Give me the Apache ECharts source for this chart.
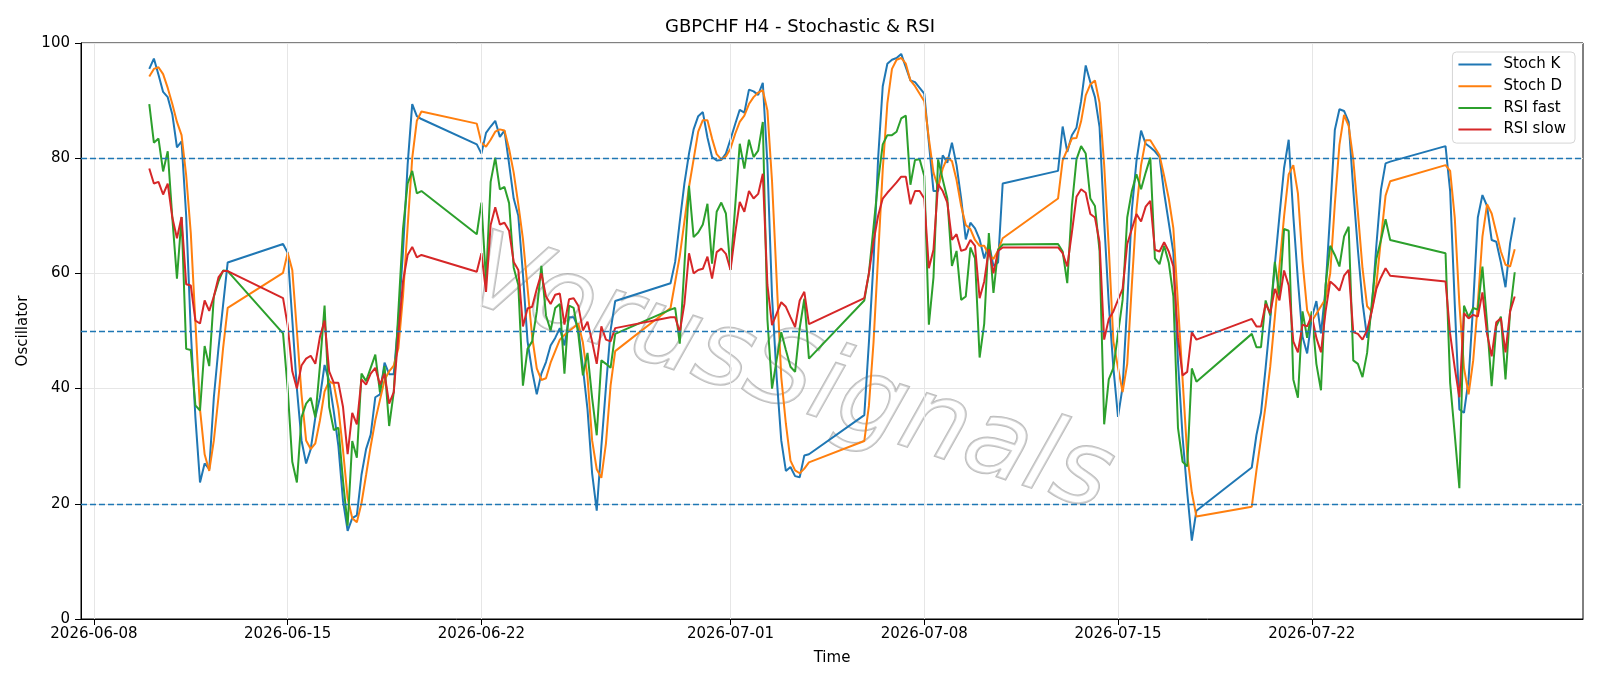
<!DOCTYPE html>
<html>
<head>
<meta charset="utf-8">
<title>GBPCHF H4 - Stochastic & RSI</title>
<script src="https://cdn.jsdelivr.net/npm/echarts@6/dist/echarts.min.js"></script>
<style>
    html, body { margin: 0; padding: 0; background: #fff; }
    #chart-stoch-rsi { width: 1600px; height: 686px; }
</style>
</head>
<body>
<div id="chart-stoch-rsi"></div>
<script>
// H4 sessions (UTC): first bar and bar count, one line per week in the arrays below
let sessionStart = ['2026-06-10T00:00:00Z', '2026-06-14T20:00:00Z', '2026-06-21T20:00:00Z', '2026-06-28T20:00:00Z',
    '2026-07-05T20:00:00Z', '2026-07-12T20:00:00Z', '2026-07-19T20:00:00Z', '2026-07-26T20:00:00Z'];
let sessionBars = [18, 31, 31, 31, 31, 31, 31, 16];

let tickDates = ['2026-06-08', '2026-06-15', '2026-06-22', '2026-07-01', '2026-07-08', '2026-07-15', '2026-07-22'];
let levelLines = [20, 50, 80];

let stochK = [
    95.5, 97.3, 94.5, 91.5, 90.6, 87.6, 81.9, 82.9, 70, 50, 35, 23.7, 27, 26, 38.5, 47, 54.5, 61.9,
    65.1, 63.6, 52, 40, 31, 27, 29.5, 35, 38.5, 44.1, 41.3, 36, 30, 20.5, 15.3, 17.5, 18, 25, 29.5, 32, 38.5, 39, 44.5, 42.5, 42.5, 51.8, 63.8, 78.8, 89.4, 87.3, 86.8,
    82.4, 80.8, 84.4, 85.5, 86.5, 83.7, 84.8, 79, 73, 70, 59.9, 48.2, 43, 39, 42.6, 44.6, 47.5, 48.8, 50.5, 47.5, 52.4, 52.4, 50.5, 43.6, 36.4, 25.3, 18.8, 29.9, 40.3, 50.1, 55.2,
    58.3, 62, 69, 75.6, 80.8, 85, 87.3, 88, 83.6, 80.2, 79.6, 79.7, 80.8, 83.3, 85.9, 88.4, 87.9, 91.9, 91.6, 91, 93.1, 79, 56, 42, 31, 25.7, 26.4, 24.8, 24.6, 28.4, 28.6,
    35.4, 48, 62, 80, 92.5, 96.4, 97.1, 97.4, 98.1, 95.8, 93.5, 93.2, 92.2, 91.2, 82.7, 74.3, 74.3, 80.5, 79.2, 82.7, 78.8, 73, 65.9, 68.8, 67.8, 65.9, 62.6, 65.2, 61.3, 61.9, 75.6,
    77.8, 85.5, 81.1, 84, 85.3, 89.9, 96.1, 93.2, 90.6, 85.4, 69, 54.7, 43.6, 35.1, 40.3, 54.7, 71, 79.5, 84.8, 82.5, 81.9, 81.2, 80.2, 74, 68.8, 63.6, 44.7, 31.6, 22, 13.6, 18.8,
    26.3, 31.9, 35.8, 43.6, 52, 61.5, 70, 78.3, 83.2, 70, 58.8, 49, 46.1, 52.3, 55.2, 49.6, 57.4, 70.5, 84.9, 88.5, 88.2, 86.3, 74.5, 64.1, 55, 48.8, 53.7, 64.8, 74.5, 79.1, 79.4,
    82.1, 74.3, 54.7, 36.4, 35.8, 41.6, 54.7, 69.7, 73.6, 71.7, 65.8, 65.5, 61.9, 57.6, 65.2, 69.7
];
let stochD = [
    94.2, 95.5, 95.8, 94.6, 92.2, 89.4, 86.3, 84, 77, 67, 51.5, 36.4, 28.6, 25.7, 31, 38.5, 47, 54,
    60.1, 63.6, 60.6, 50, 39, 31, 29.5, 30.5, 34.5, 39.5, 41.3, 40.8, 36.5, 29.3, 21, 17.5, 16.8, 20.1, 25, 30, 34.5, 38, 41.5, 43, 44, 47, 56, 68, 80, 86.5, 88.1,
    86, 82.7, 82, 83.2, 84.6, 85, 84.8, 81.6, 77.5, 72, 66, 57.5, 49, 43.5, 41.5, 41.8, 44.5, 46.5, 48.5, 49.3, 50, 50.6, 51.3, 48, 42, 31, 26, 24.5, 30.5, 40.5, 46.5,
    54, 58.5, 63, 69, 75, 79.8, 84.6, 86.6, 86.6, 83.4, 80.7, 79.8, 80.3, 81.7, 84.2, 86.3, 87.4, 89.4, 90.6, 91.4, 91.8, 88.3, 76, 59, 42, 33.9, 27.5, 25.8, 25.3, 26.1, 27.2,
    30.9, 37, 48, 63, 78, 89.5, 95.5, 97.1, 97.4, 96.4, 93.5, 92.5, 91.2, 89.9, 83.4, 77.5, 74.9, 78.2, 80.1, 79.5, 76.2, 71.7, 68.4, 67.7, 65.8, 64.8, 64.8, 63.2, 62.5, 64, 66.1,
    73, 79.6, 81.5, 83.4, 83.5, 86.4, 90.9, 92.8, 93.5, 89.6, 78.8, 64.5, 48.2, 43.6, 39.4, 44.3, 58, 71, 78.8, 83.1, 83.1, 81.8, 80.5, 76.9, 73, 67.8, 54.7, 41.6, 28.6, 22, 17.8,
    19.5, 25.7, 31.3, 37.1, 43.8, 52.4, 61.2, 69.9, 77.2, 78.8, 73.9, 62.1, 53.6, 51.7, 53, 54.3, 55.6, 60, 72, 82.3, 87.5, 85.6, 79.8, 70.6, 60.9, 54.3, 53.4, 58, 66, 73.5, 76,
    78.8, 77.8, 69.7, 54.7, 43.6, 39, 44.9, 54.7, 66.4, 72, 70.4, 67.1, 63.8, 61.5, 61.2, 64.2
];
let rsiFast = [
    89.4, 82.7, 83.4, 77.7, 81.2, 69.6, 59.1, 69.8, 46.9, 46.7, 37.1, 36.2, 47.4, 43.9, 56, 58.6, 60.5, 60.4,
    49.6, 40, 27.3, 23.7, 35, 37.4, 38.4, 35, 44, 54.4, 36.8, 32.8, 33.2, 24, 16.2, 30.9, 28, 42.6, 41.3, 43.6, 45.9, 39.4, 43.9, 33.5, 39.4, 53.4, 67.7, 75.6, 77.8, 73.9, 74.3,
    66.8, 72.3, 58.6, 75.9, 80.1, 74.6, 75, 72.2, 61, 58, 40.5, 46.9, 48.2, 53.4, 61.3, 52.7, 50.1, 54, 54.7, 42.6, 54.4, 54, 49.5, 42.3, 46.2, 38.4, 31.9, 44.9, 44.3, 43.6, 49.5,
    53.7, 54, 47.8, 61.2, 75.2, 66.3, 67.1, 68.5, 72.1, 61.7, 70.7, 72.3, 70.4, 60.6, 71.5, 82.5, 78.2, 83.2, 80.2, 81.3, 86.3, 52, 40, 45, 49.8, 46.7, 43.8, 42.9, 50.5, 55.6, 45.2,
    55.3, 60, 68, 76, 82.4, 84, 84, 84.6, 86.9, 87.4, 75.4, 79.7, 79.8, 76.9, 51.1, 59.3, 79.8, 76.3, 73, 61.3, 63.9, 55.4, 56, 64.5, 62.6, 45.4, 51.3, 67, 56.6, 64.1, 65,
    65.1, 63.8, 58.3, 71.7, 79.8, 82.1, 80.8, 73, 71.7, 63.9, 33.8, 41.6, 43.6, 49.5, 55.4, 69.7, 74.3, 77.2, 74.6, 77.5, 80.1, 62.6, 61.6, 64.8, 61.9, 56, 33.2, 27.3, 26.5, 43.5, 41.2,
    49.5, 47.2, 47.2, 55.3, 52.7, 62, 56, 67.7, 67.4, 41.6, 38.4, 53.4, 48.8, 53.4, 44.3, 39.7, 58, 64.8, 63.2, 61.2, 66.4, 68.1, 44.9, 44.3, 42, 46.2, 54.7, 62.5, 65.8, 69.4, 65.8,
    63.5, 41, 32, 22.7, 54.4, 52.4, 54, 53.7, 61.2, 51.4, 40.4, 50.8, 52.5, 41.6, 53.4, 60.2
];
let rsiSlow = [
    78.2, 75.6, 75.9, 73.7, 75.6, 69.7, 66.1, 69.8, 58.1, 57.9, 51.8, 51.3, 55.3, 53.5, 56, 59.3, 60.4, 60.4,
    55.7, 51, 43, 40, 44, 45.2, 45.7, 44.3, 49, 51.8, 43, 41, 41, 36.8, 28.6, 35.8, 33.8, 41.6, 40.7, 42.6, 43.6, 40.7, 42.6, 37.4, 39.4, 49.5, 58.6, 63.2, 64.6, 62.8, 63.2,
    60.3, 63.5, 56.8, 68.4, 71.5, 68.5, 68.8, 67.4, 62, 60.6, 50.8, 53.9, 54.2, 57.3, 60, 56, 54.7, 56.3, 56.5, 51.1, 55.5, 55.7, 54.4, 50.1, 51.6, 48.2, 44.3, 50.8, 48.5, 48.2, 50.5,
    52.4, 52.4, 49.8, 54.7, 63.5, 60, 60.6, 60.8, 62.9, 59.1, 63.7, 64.3, 63.4, 60.6, 66.9, 72.4, 70.7, 74.3, 73, 73.8, 77.3, 58, 51, 53, 55, 54.2, 52.4, 50.7, 55.3, 56.8, 51.2,
    55.7, 60, 65.5, 70, 73, 74, 74.9, 75.8, 76.8, 76.8, 72, 74.3, 74.3, 73, 60.9, 64.1, 75.5, 74.3, 72.3, 65.8, 66.8, 63.9, 64.2, 65.8, 64.8, 55.7, 58.6, 64.2, 60, 63.9, 64.5,
    64.5, 63.5, 61.2, 67.1, 73.3, 74.6, 74, 70.3, 69.7, 65.4, 48.5, 52.1, 53.4, 55.4, 57.3, 65.1, 67.7, 70.3, 69, 71.6, 72.6, 64.1, 63.8, 65.4, 63.8, 61.2, 48.8, 42.3, 42.9, 49.8, 48.5,
    52.1, 50.8, 50.8, 54.7, 53.1, 57.3, 55.3, 60.5, 57.9, 48.2, 46.3, 51.1, 50.8, 52.7, 48.8, 46.3, 53.4, 58.6, 57.9, 57, 59.6, 60.6, 49.8, 49.5, 48.5, 50.1, 53.4, 57.3, 59.3, 60.9, 59.6,
    58.6, 49.5, 43.6, 38.5, 53.1, 52.2, 52.8, 52.5, 56.7, 49.5, 45.6, 51.5, 52.2, 46.3, 53.4, 56
];

let barTimes = [];
sessionStart.forEach(function (start, i) {
    let t0 = Date.parse(start);
    for (let b = 0; b < sessionBars[i]; b++) {
        barTimes.push(t0 + b * 4 * 3600 * 1000);
    }
});
let tickValues = tickDates.map(function (d) { return Date.parse(d + 'T00:00:00Z'); });

function pairs(values) {
    return barTimes.map(function (t, i) { return [t, values[i]]; });
}

function chartStochRsi(element) {
    let chartDom = document.getElementById(element);
    let myChart = echarts.init(chartDom, null, {renderer: 'canvas'});
    let first = barTimes[0], last = barTimes[barTimes.length - 1];
    let pad = (last - first) * 0.05;
    let font = 'DejaVu Sans';
    let lineSeries = function (name, values, color) {
        return {
            name: name,
            type: 'line',
            data: pairs(values),
            showSymbol: false,
            symbol: 'none',
            z: 3,
            lineStyle: {color: color, width: 2},
            itemStyle: {color: color},
            emphasis: {disabled: true}
        };
    };
    let option = {
        animation: false,
        backgroundColor: '#fff',
        textStyle: {fontFamily: font},
        title: {
            text: 'GBPCHF H4 - Stochastic & RSI',
            left: 'center',
            top: 18,
            padding: 0,
            textStyle: {fontFamily: font, fontSize: 18, fontWeight: 'normal', color: '#000'}
        },
        legend: {
            data: ['Stoch K', 'Stoch D', 'RSI fast', 'RSI slow'],
            orient: 'vertical',
            right: 25,
            top: 52,
            padding: [5, 9, 6, 6],
            itemGap: 6.7,
            itemWidth: 33,
            itemHeight: 2,
            icon: 'rect',
            backgroundColor: 'rgba(255,255,255,0.8)',
            borderColor: '#d5d5d5',
            borderWidth: 1,
            borderRadius: 4,
            textStyle: {fontFamily: font, fontSize: 15, color: '#000', lineHeight: 15, padding: [0, 0, 0, 7]}
        },
        grid: {
            left: 81, top: 43, width: 1502, height: 576,
            show: true, borderColor: '#000', borderWidth: 1, backgroundColor: 'transparent'
        },
        graphic: [{
            type: 'text',
            left: 452, top: 222,
            rotation: -0.32,
            z: 1,
            style: {
                text: 'VorusSignals',
                font: 'italic 105px "DejaVu Sans"',
                fill: 'rgba(255,255,255,0.35)',
                stroke: 'rgba(135,135,135,0.55)',
                lineWidth: 2,
                shadowColor: 'rgba(100,100,100,0.5)',
                shadowBlur: 3,
                shadowOffsetX: 4,
                shadowOffsetY: 5
            }
        }],
        xAxis: {
            type: 'value',
            min: first - pad,
            max: last + pad,
            name: 'Time',
            nameLocation: 'middle',
            nameGap: 32,
            nameTextStyle: {fontFamily: font, fontSize: 15, color: '#000'},
            axisLine: {show: true, lineStyle: {color: '#000', width: 1}},
            axisTick: {show: true, inside: false, length: 6, customValues: tickValues, lineStyle: {color: '#000'}},
            axisLabel: {
                customValues: tickValues,
                margin: 8,
                fontFamily: font, fontSize: 15, color: '#000',
                formatter: function (v) { return new Date(v).toISOString().slice(0, 10); }
            },
            splitLine: {show: false}
        },
        yAxis: {
            type: 'value',
            min: 0, max: 100, interval: 20,
            name: 'Oscillator',
            nameLocation: 'middle',
            nameRotate: 90,
            nameGap: 44,
            nameTextStyle: {fontFamily: font, fontSize: 15, color: '#000'},
            axisLine: {show: true, lineStyle: {color: '#000', width: 1}},
            axisTick: {show: true, inside: false, length: 6, lineStyle: {color: '#000'}},
            axisLabel: {margin: 11, fontFamily: font, fontSize: 15, color: '#000'},
            splitLine: {show: true, lineStyle: {color: '#e6e6e6', width: 1}}
        },
        series: [
            {
                name: 'grid-x',
                type: 'line',
                data: [],
                z: 1,
                markLine: {
                    silent: true,
                    symbol: ['none', 'none'],
                    label: {show: false},
                    lineStyle: {color: '#e6e6e6', width: 1, type: 'solid'},
                    data: tickValues.map(function (v) { return {xAxis: v}; })
                }
            },
            lineSeries('Stoch K', stochK, '#1f77b4'),
            lineSeries('Stoch D', stochD, '#ff7f0e'),
            lineSeries('RSI fast', rsiFast, '#2ca02c'),
            lineSeries('RSI slow', rsiSlow, '#d62728'),
            {
                name: 'levels',
                type: 'line',
                data: [],
                z: 4,
                markLine: {
                    silent: true,
                    symbol: ['none', 'none'],
                    label: {show: false},
                    lineStyle: {color: '#1f77b4', width: 1.3, type: [6, 3]},
                    data: levelLines.map(function (v) { return {yAxis: v}; })
                }
            }
        ]
    };
    option && myChart.setOption(option);
}

chartStochRsi('chart-stoch-rsi');
</script>
</body>
</html>
